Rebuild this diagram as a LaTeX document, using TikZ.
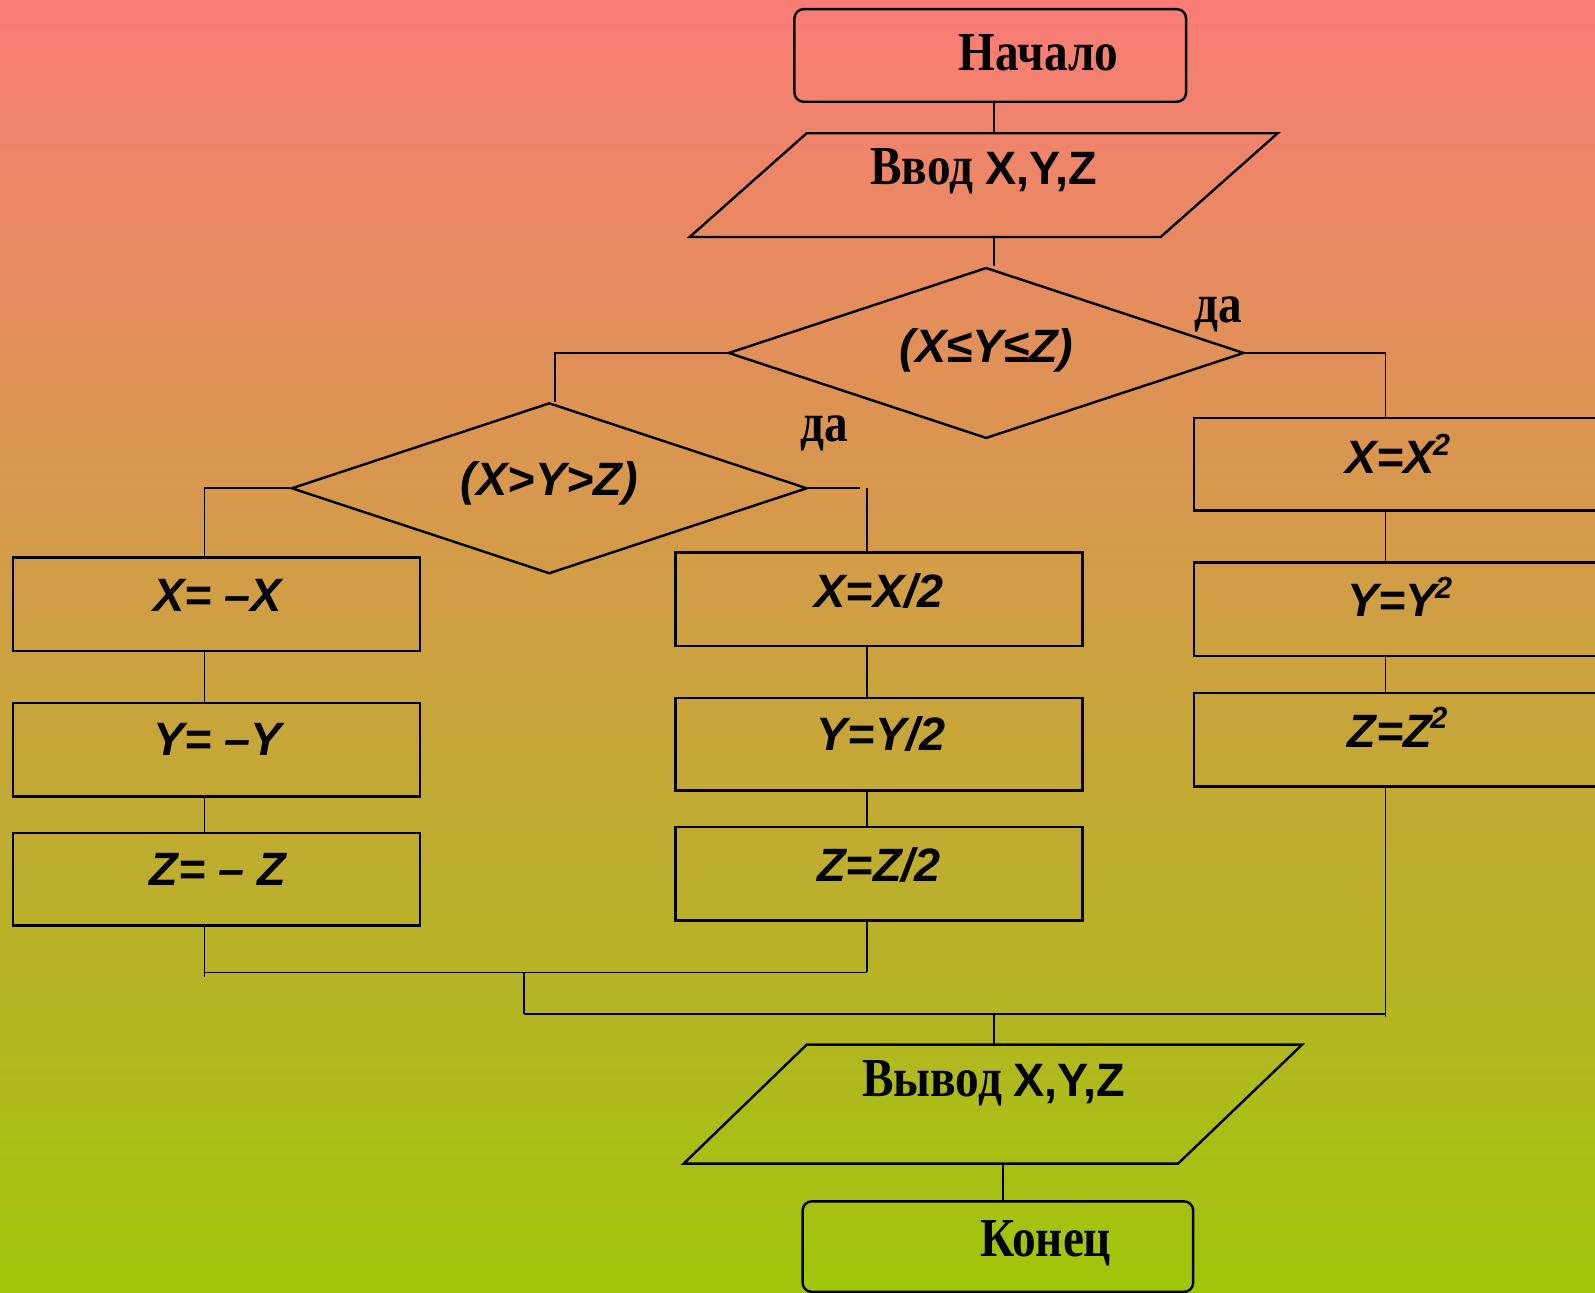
\documentclass[tikz,border=0pt]{standalone}
\usepackage{fontspec}
\usetikzlibrary{shapes.geometric}
\newfontfamily\cyrserif[FakeStretch=0.86]{Liberation Serif}
\newfontfamily\latsans{Liberation Sans}
\definecolor{bgtop}{RGB}{249,124,118}
\definecolor{bgbot}{RGB}{160,198,10}
\newcommand\blocktext{\cyrserif\bfseries\fontsize{54}{60}\selectfont}
\newcommand\formtext{\latsans\bfseries\itshape\fontsize{46}{52}\selectfont}
\newcommand\vartext{\latsans\bfseries\fontsize{46}{52}\selectfont}
\newcommand\sqr{\kern-2pt\raisebox{18pt}{\fontsize{30}{32}\selectfont 2}}
\begin{document}
\begin{tikzpicture}[x=1pt,y=-1pt,
  outline/.style={draw=black,line width=2.4pt},
  conn/.style={draw=black,line width=1.8pt},
  opbox/.style={outline,rectangle,inner sep=0pt,minimum width=400,minimum height=92},
  termbox/.style={outline,rectangle,rounded corners=9pt,inner sep=0pt},
  cond/.style={outline,diamond,inner sep=0pt,minimum width=507,minimum height=168},
  lbl/.style={inner sep=0pt,anchor=center}]

\useasboundingbox (0,0) rectangle (1568,1271);
\clip (0,0) rectangle (1568,1271);
\shade[top color=bgtop,bottom color=bgbot] (0,0) rectangle (1568,1271);

% terminals
\node[termbox,minimum width=385,minimum height=91] (start) at (973.5,54.5) {};
\node[lbl] (tstart) at (1021,52) {\blocktext Начало};
\node[termbox,minimum width=384,minimum height=89] (stop) at (981,1225.5) {};
\node[lbl] (tstop) at (1028,1222) {\blocktext Конец};

% input / output parallelograms
\draw[outline] (793,131) -- (1256,131) -- (1141,233) -- (678,233) -- cycle;
\coordinate (inTop) at (977,131);
\coordinate (inBot) at (977,233);
\node[lbl] (tin) at (967,168) {\blocktext Ввод {\vartext X,Y,Z}};

\draw[outline] (793,1027) -- (1280,1027) -- (1158,1144) -- (672,1144) -- cycle;
\coordinate (outTop) at (977,1027);
\coordinate (outBot) at (986,1144);
\node[lbl] (tout) at (977,1065) {\blocktext Вывод {\vartext X,Y,Z}};

% decisions
\node[cond] (d1) at (969.5,347) {};
\node[lbl] (td1) at (970,344) {\formtext (X≤Y≤Z)};
\node[lbl] (yes1) at (1198,309) {\blocktext да};
\node[cond] (d2) at (540,480) {};
\node[lbl] (td2) at (540,475) {\formtext (X>Y>Z)};
\node[lbl] (yes2) at (810,426) {\blocktext да};

% left column
\node[opbox] (l1) at (213,594) {};
\node[lbl] (tl1) at (214,585) {\formtext X= –X};
\node[opbox] (l2) at (213,737) {};
\node[lbl] (tl2) at (214,727) {\formtext Y= –Y};
\node[opbox,minimum height=91] (l3) at (213,864.5) {};
\node[lbl] (tl3) at (214,855) {\formtext Z= – Z};

% middle column
\node[opbox] (m1) at (864,589) {};
\node[lbl] (tm1) at (864,581) {\formtext X=X/2};
\node[opbox,minimum height=91] (m2) at (864,731.5) {};
\node[lbl] (tm2) at (866,722) {\formtext Y=Y/2};
\node[opbox] (m3) at (864,859) {};
\node[lbl] (tm3) at (864,850) {\formtext Z=Z/2};

% right column
\node[opbox,minimum width=416,minimum height=91] (r1) at (1382,456.5) {};
\node[lbl] (tr1) at (1374,446) {\formtext X=X\sqr};
\node[opbox,minimum width=416] (r2) at (1382,599) {};
\node[lbl] (tr2) at (1376,587) {\formtext Y=Y\sqr};
\node[opbox,minimum width=416] (r3) at (1382,727) {};
\node[lbl] (tr3) at (1374,715) {\formtext Z=Z\sqr};

% junction points
\coordinate (j1) at (546,347);
\coordinate (j2) at (1362,347);
\coordinate (j3) at (201,480);
\coordinate (j4) at (845,480);
\coordinate (j5) at (852,480);
\coordinate (j6) at (201,960);
\coordinate (j7) at (852,956);
\coordinate (j8) at (515,956);
\coordinate (j9) at (515,997);
\coordinate (j10) at (1362,1000);

% connectors
\draw[conn] (start.south -| inTop) -- (inTop);
\draw[conn] (inBot) -- (d1.north -| inBot);
\draw[conn] (d1.west) -- (d1.west -| j1) -- (j1 |- d2.north);
\draw[conn] (d1.east) -- (d1.east -| j2) -- (j2 |- r1.north);
\draw[conn] (d2.west) -- (d2.west -| j3) -- (j3 |- l1.north);
\draw[conn] (d2.east) -- (d2.east -| j4);
\draw[conn] (j5) -- (j5 |- m1.north);
\draw[conn] (l1.south -| j3) -- (l2.north -| j3);
\draw[conn] (l2.south -| j3) -- (l3.north -| j3);
\draw[conn] (l3.south -| j3) -- (j6);
\draw[conn] (m1.south -| j5) -- (m2.north -| j5);
\draw[conn] (m2.south -| j5) -- (m3.north -| j5);
\draw[conn] (m3.south -| j5) -- (j7);
\draw[conn] (j6 |- j7) -- (j7);
\draw[conn] (j8) -- (j9);
\draw[conn] (r1.south -| j2) -- (r2.north -| j2);
\draw[conn] (r2.south -| j2) -- (r3.north -| j2);
\draw[conn] (r3.south -| j2) -- (j10);
\draw[conn] (j9) -- (j10 |- j9);
\draw[conn] (outTop |- j9) -- (outTop);
\draw[conn] (outBot) -- (stop.north -| outBot);
\end{tikzpicture}
\end{document}
